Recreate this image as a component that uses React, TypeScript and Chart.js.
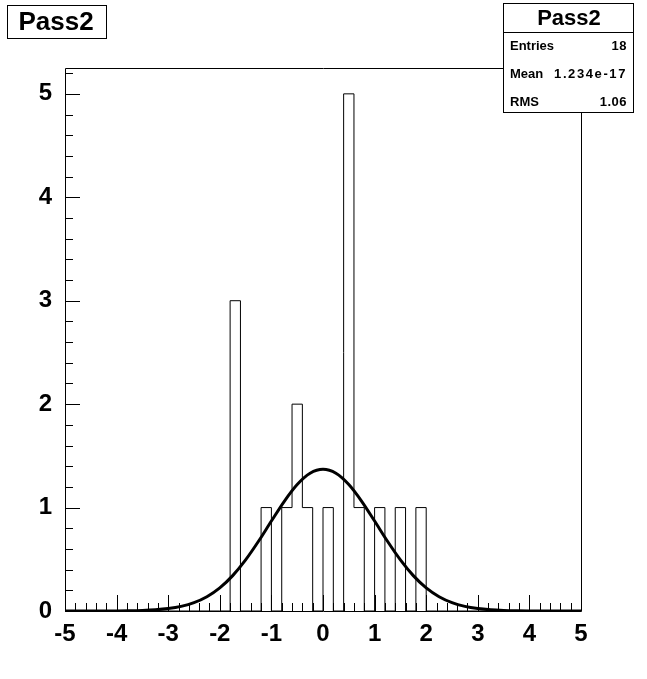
import React, { useEffect, useRef } from "react";
import { Chart, registerables } from "chart.js";

Chart.register(...registerables);

// Histogram: 50 bins of width 0.2 from -5 to 5
const binLow = -5;
const binWidth = 0.2;
const counts = [
  0, 0, 0, 0, 0, 0, 0, 0, 0, 0,
  0, 0, 0, 0, 0, 0, 3, 0, 0, 1,
  0, 1, 2, 1, 0, 1, 0, 5, 1, 0,
  1, 0, 1, 0, 1, 0, 0, 0, 0, 0,
  0, 0, 0, 0, 0, 0, 0, 0, 0, 0,
];

// Gaussian fit curve
const fitX = [-5, -4.5, -4, -3.75, -3.5, -3.25, -3, -2.75, -2.5, -2.25, -2, -1.75, -1.5, -1.25, -1, -0.75, -0.5, -0.25, 0, 0.25, 0.5, 0.75, 1, 1.25, 1.5, 1.75, 2, 2.25, 2.5, 2.75, 3, 3.25, 3.5, 3.75, 4, 4.5, 5];
const fitY = [0, 0.0001, 0.0009, 0.0023, 0.0053, 0.0114, 0.0231, 0.0444, 0.0806, 0.138, 0.223, 0.342, 0.494, 0.674, 0.870, 1.061, 1.223, 1.332, 1.37, 1.332, 1.223, 1.061, 0.870, 0.674, 0.494, 0.342, 0.223, 0.138, 0.0806, 0.0444, 0.0231, 0.0114, 0.0053, 0.0023, 0.0009, 0.0001, 0];

const xTicks = [-5, -4, -3, -2, -1, 0, 1, 2, 3, 4, 5];
const yTicks = [0, 1, 2, 3, 4, 5];

const titleText = "Pass2";
const statsLabels = ["Entries", "Mean", "RMS"];
const statsValues = ["18", "1.234e-17", "1.06"];

const FONT = "'Liberation Sans', Arial, Helvetica, sans-serif";

export default function App() {
  const ref = useRef<HTMLCanvasElement>(null);

  useEffect(() => {
    const canvas = ref.current!;
    const histPts: { x: number; y: number }[] = counts.map((c, i) => ({
      x: binLow + i * binWidth,
      y: c,
    }));
    histPts.push({ x: binLow + counts.length * binWidth, y: 0 });
    const fitPts = fitX.map((x, i) => ({ x, y: fitY[i] }));

    const rootPlugin = {
      id: "rootDeco",
      beforeDatasetsDraw(chart: any) {
        const ctx = chart.ctx;
        const a = chart.chartArea;
        const xs = chart.scales.x;
        const ys = chart.scales.y;
        ctx.save();
        ctx.strokeStyle = "#000";
        ctx.lineWidth = 1;
        ctx.beginPath();
        ctx.rect(Math.round(a.left) + 0.5, Math.round(a.top) + 0.5, Math.round(a.right - a.left), Math.round(a.bottom - a.top));
        ctx.stroke();
        ctx.beginPath();
        for (let k = 0; k <= 50; k++) {
          const v = -5 + k * 0.2;
          const major = k % 5 === 0;
          const px = Math.round(xs.getPixelForValue(v)) + 0.5;
          ctx.moveTo(px, a.bottom);
          ctx.lineTo(px, a.bottom - (major ? 16 : 8));
        }
        for (let k = 0; k <= 26; k++) {
          const v = k * 0.2;
          const major = k % 5 === 0;
          const py = Math.round(ys.getPixelForValue(v)) + 0.5;
          ctx.moveTo(a.left, py);
          ctx.lineTo(a.left + (major ? 15 : 8), py);
        }
        ctx.stroke();
        ctx.restore();
      },
      afterDraw(chart: any) {
        const ctx = chart.ctx;
        ctx.save();
        ctx.strokeStyle = "#000";
        ctx.lineWidth = 1;
        ctx.fillStyle = "#fff";
        ctx.fillRect(7, 5, 99, 33);
        ctx.strokeRect(7.5, 5.5, 99, 33);
        ctx.fillStyle = "#000";
        ctx.font = `bold 26px ${FONT}`;
        ctx.textAlign = "center";
        ctx.textBaseline = "middle";
        ctx.fillText(titleText, 56, 23);
        ctx.fillStyle = "#fff";
        ctx.fillRect(503, 3, 130, 109);
        ctx.strokeRect(503.5, 3.5, 130, 109);
        ctx.beginPath();
        ctx.moveTo(503, 32.5);
        ctx.lineTo(633, 32.5);
        ctx.stroke();
        ctx.fillStyle = "#000";
        ctx.font = `bold 22px ${FONT}`;
        ctx.fillText(titleText, 569, 19);
        ctx.font = `bold 13px ${FONT}`;
        const rowsY = [46, 74, 102];
        statsLabels.forEach((l, i) => {
          ctx.textAlign = "left";
          (ctx as any).letterSpacing = "0px";
          ctx.fillText(l, 510, rowsY[i]);
          ctx.textAlign = "right";
          (ctx as any).letterSpacing = statsValues[i].length > 5 ? "1.6px" : "0.5px";
          ctx.fillText(statsValues[i], 627, rowsY[i]);
        });
        (ctx as any).letterSpacing = "0px";
        ctx.restore();
      },
    };

    const chart = new Chart(canvas, {
      type: "line",
      data: {
        datasets: [
          {
            data: histPts,
            stepped: true,
            borderColor: "#000",
            borderWidth: 1,
            pointRadius: 0,
            fill: false,
          },
          {
            data: fitPts,
            borderColor: "#000",
            borderWidth: 3,
            pointRadius: 0,
            fill: false,
            cubicInterpolationMode: "monotone",
          },
        ],
      },
      options: {
        responsive: false,
        animation: false,
        events: [],
        layout: { padding: { top: 68, right: 66, left: 0, bottom: 0 } },
        plugins: {
          legend: { display: false },
          tooltip: { enabled: false },
          title: { display: false },
        },
        scales: {
          x: {
            type: "linear",
            min: -5,
            max: 5,
            grid: { display: false, drawTicks: false },
            border: { display: false },
            afterBuildTicks: (s: any) => {
              s.ticks = xTicks.map((v) => ({ value: v }));
            },
            afterFit: (s: any) => {
              s.height = 68;
            },
            ticks: {
              autoSkip: false,
              maxRotation: 0,
              padding: 9,
              color: "#000",
              font: { family: FONT, size: 24, weight: "bold" },
              callback: (v: any) => String(v),
            },
          },
          y: {
            type: "linear",
            min: 0,
            max: 5.25,
            grid: { display: false, drawTicks: false },
            border: { display: false },
            afterBuildTicks: (s: any) => {
              s.ticks = yTicks.map((v) => ({ value: v }));
            },
            afterFit: (s: any) => {
              s.width = 65;
            },
            ticks: {
              autoSkip: false,
              padding: 13,
              color: "#000",
              font: { family: FONT, size: 24, weight: "bold" },
              callback: (v: any) => String(v),
            },
          },
        },
      },
      plugins: [rootPlugin],
    } as any);
    return () => chart.destroy();
  }, []);

  return (
    <div style={{ position: "fixed", left: 0, top: 0, width: 647, height: 679, background: "#fff" }}>
      <canvas ref={ref} width={647} height={679} style={{ width: 647, height: 679, display: "block" }} />
    </div>
  );
}
